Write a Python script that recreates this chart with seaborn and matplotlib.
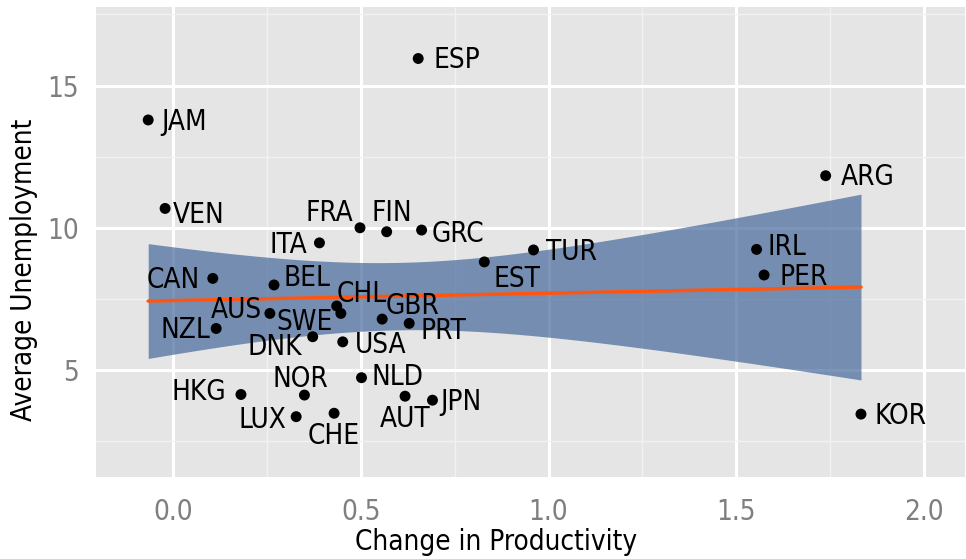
import numpy as np
import pandas as pd
import matplotlib
matplotlib.use("Agg")
import matplotlib.pyplot as plt
from matplotlib import font_manager
import seaborn as sns

# Data
countries = ["ESP", "JAM", "VEN", "FRA", "FIN", "GRC", "ITA", "EST", "TUR", "IRL",
             "PER", "ARG", "KOR", "CAN", "BEL", "AUS", "NZL", "CHL", "SWE", "GBR",
             "PRT", "DNK", "USA", "NLD", "HKG", "NOR", "AUT", "JPN", "LUX", "CHE"]
productivity = [0.653, -0.066, -0.021, 0.498, 0.569, 0.662, 0.390, 0.829, 0.960, 1.554,
                1.574, 1.738, 1.832, 0.106, 0.269, 0.258, 0.115, 0.436, 0.447, 0.557,
                0.629, 0.372, 0.452, 0.502, 0.181, 0.350, 0.618, 0.691, 0.328, 0.429]
unemployment = [15.95, 13.79, 10.68, 10.00, 9.86, 9.92, 9.47, 8.80, 9.22, 9.24,
                8.34, 11.83, 3.45, 8.22, 7.99, 6.99, 6.46, 7.25, 6.99, 6.79,
                6.64, 6.17, 5.99, 4.73, 4.14, 4.12, 4.08, 3.94, 3.36, 3.48]

df = pd.DataFrame({"country": countries, "prod": productivity, "unemp": unemployment})

# label placement: (dx, dy in image pixels, dy positive = down, horizontal alignment)
label_pos = {
    "ESP": (15, 0, "left"), "JAM": (13, 0, "left"), "VEN": (8, 5, "left"),
    "FRA": (-7, -16, "right"), "FIN": (5, -20, "center"), "GRC": (10, 2, "left"),
    "ITA": (-12, 0, "right"), "EST": (9, 15, "left"), "TUR": (12, 0, "left"),
    "IRL": (11, -4, "left"), "PER": (15, 0, "left"), "ARG": (15, 0, "left"),
    "KOR": (14, 0, "left"), "CAN": (-13, 0, "right"), "BEL": (9, -9, "left"),
    "AUS": (-8, -5, "right"), "NZL": (-6, 0, "right"), "CHL": (0, -14, "left"),
    "SWE": (-8, 7, "right"), "GBR": (3, -15, "left"), "PRT": (11, 6, "left"),
    "DNK": (-11, 9, "right"), "USA": (12, 1, "left"), "NLD": (10, -2, "left"),
    "HKG": (-15, -4, "right"), "NOR": (-4, -18, "center"), "AUT": (0, 21, "center"),
    "JPN": (8, 0, "left"), "LUX": (-10, 2, "right"), "CHE": (0, 21, "center"),
}

sns.set_style("darkgrid")

# the reference uses a narrow sans; pick a condensed face if one is installed
narrow = None
for f in font_manager.fontManager.ttflist:
    if f.style == "normal" and f.weight in (400, "normal", "regular") and \
            (f.stretch in ("condensed", "semi-condensed", 75, 87.5) or
             "narrow" in f.name.lower() or "condensed" in f.name.lower()):
        narrow = f
        break
if narrow is not None:
    plt.rcParams['font.family'] = [narrow.name, 'DejaVu Sans']
    plt.rcParams['font.stretch'] = narrow.stretch
else:
    plt.rcParams['font.family'] = ['Roboto', 'DejaVu Sans']
fs = 20

fig = plt.figure(figsize=(9.66, 5.59), dpi=100)
ax = fig.add_axes([96 / 966, 1 - 476.7 / 559, 869 / 966, 469.4 / 559])
ax.set_facecolor("#E5E5E5")

# confidence band for the linear fit (t based, like ggplot's se=TRUE)
x = df["prod"].to_numpy()
y = df["unemp"].to_numpy()
n = len(x)
b1, b0 = np.polyfit(x, y, 1)
resid = y - (b0 + b1 * x)
s = np.sqrt(np.sum(resid ** 2) / (n - 2))
sxx = np.sum((x - x.mean()) ** 2)
xg = np.linspace(x.min(), x.max(), 100)
se = s * np.sqrt(1 / n + (xg - x.mean()) ** 2 / sxx)
tval = 2.048
yg = b0 + b1 * xg
ax.fill_between(xg, yg - tval * se, yg + tval * se, color="#46689A", alpha=0.7,
                linewidth=0, zorder=2)

sns.regplot(data=df, x="prod", y="unemp", ax=ax, scatter=False, ci=None,
            line_kws={"color": "#FF5511", "lw": 2.5, "zorder": 3})
sns.scatterplot(data=df, x="prod", y="unemp", ax=ax, color="black", s=62,
                edgecolor="none", zorder=4)

cap = 0.70 * fs / 0.72
for c, px, uy in zip(countries, productivity, unemployment):
    dx, dy, ha = label_pos[c]
    ax.annotate(c, (px, uy), xytext=(dx, -dy - cap / 2), textcoords="offset pixels",
                ha=ha, va="baseline", fontsize=fs, color="black", zorder=5)

ax.set_xticks([0.0, 0.5, 1.0, 1.5, 2.0])
ax.set_xticklabels(["0.0", "0.5", "1.0", "1.5", "2.0"])
ax.set_yticks([5, 10, 15])
ax.set_xticks([0.25, 0.75, 1.25, 1.75], minor=True)
ax.set_yticks([2.5, 7.5, 12.5, 17.5], minor=True)
ax.set_xlim(-0.205, 2.109)
ax.set_ylim(1.25, 17.75)
ax.grid(which="major", color="white", lw=2.2)
ax.grid(which="minor", color="#F2F2F2", lw=1.0)
ax.set_axisbelow(True)
for sp in ax.spines.values():
    sp.set_visible(False)
ax.tick_params(which="major", length=8, width=2, color="#7F7F7F", labelcolor="#7F7F7F",
               labelsize=fs, pad=4)
ax.tick_params(axis="x", which="major", pad=7)
ax.tick_params(which="minor", length=0)

ax.set_xlabel("Change in Productivity", fontsize=fs, color="black")
ax.set_ylabel("Average Unemployment", fontsize=fs, color="black")
ax.xaxis.set_label_coords((496 - 96) / 869, (476.7 - 528) / 469.4)
ax.yaxis.set_label_coords((38 - 96) / 869, (476.7 - 270) / 469.4)

fig.savefig("out.png", dpi=100)
